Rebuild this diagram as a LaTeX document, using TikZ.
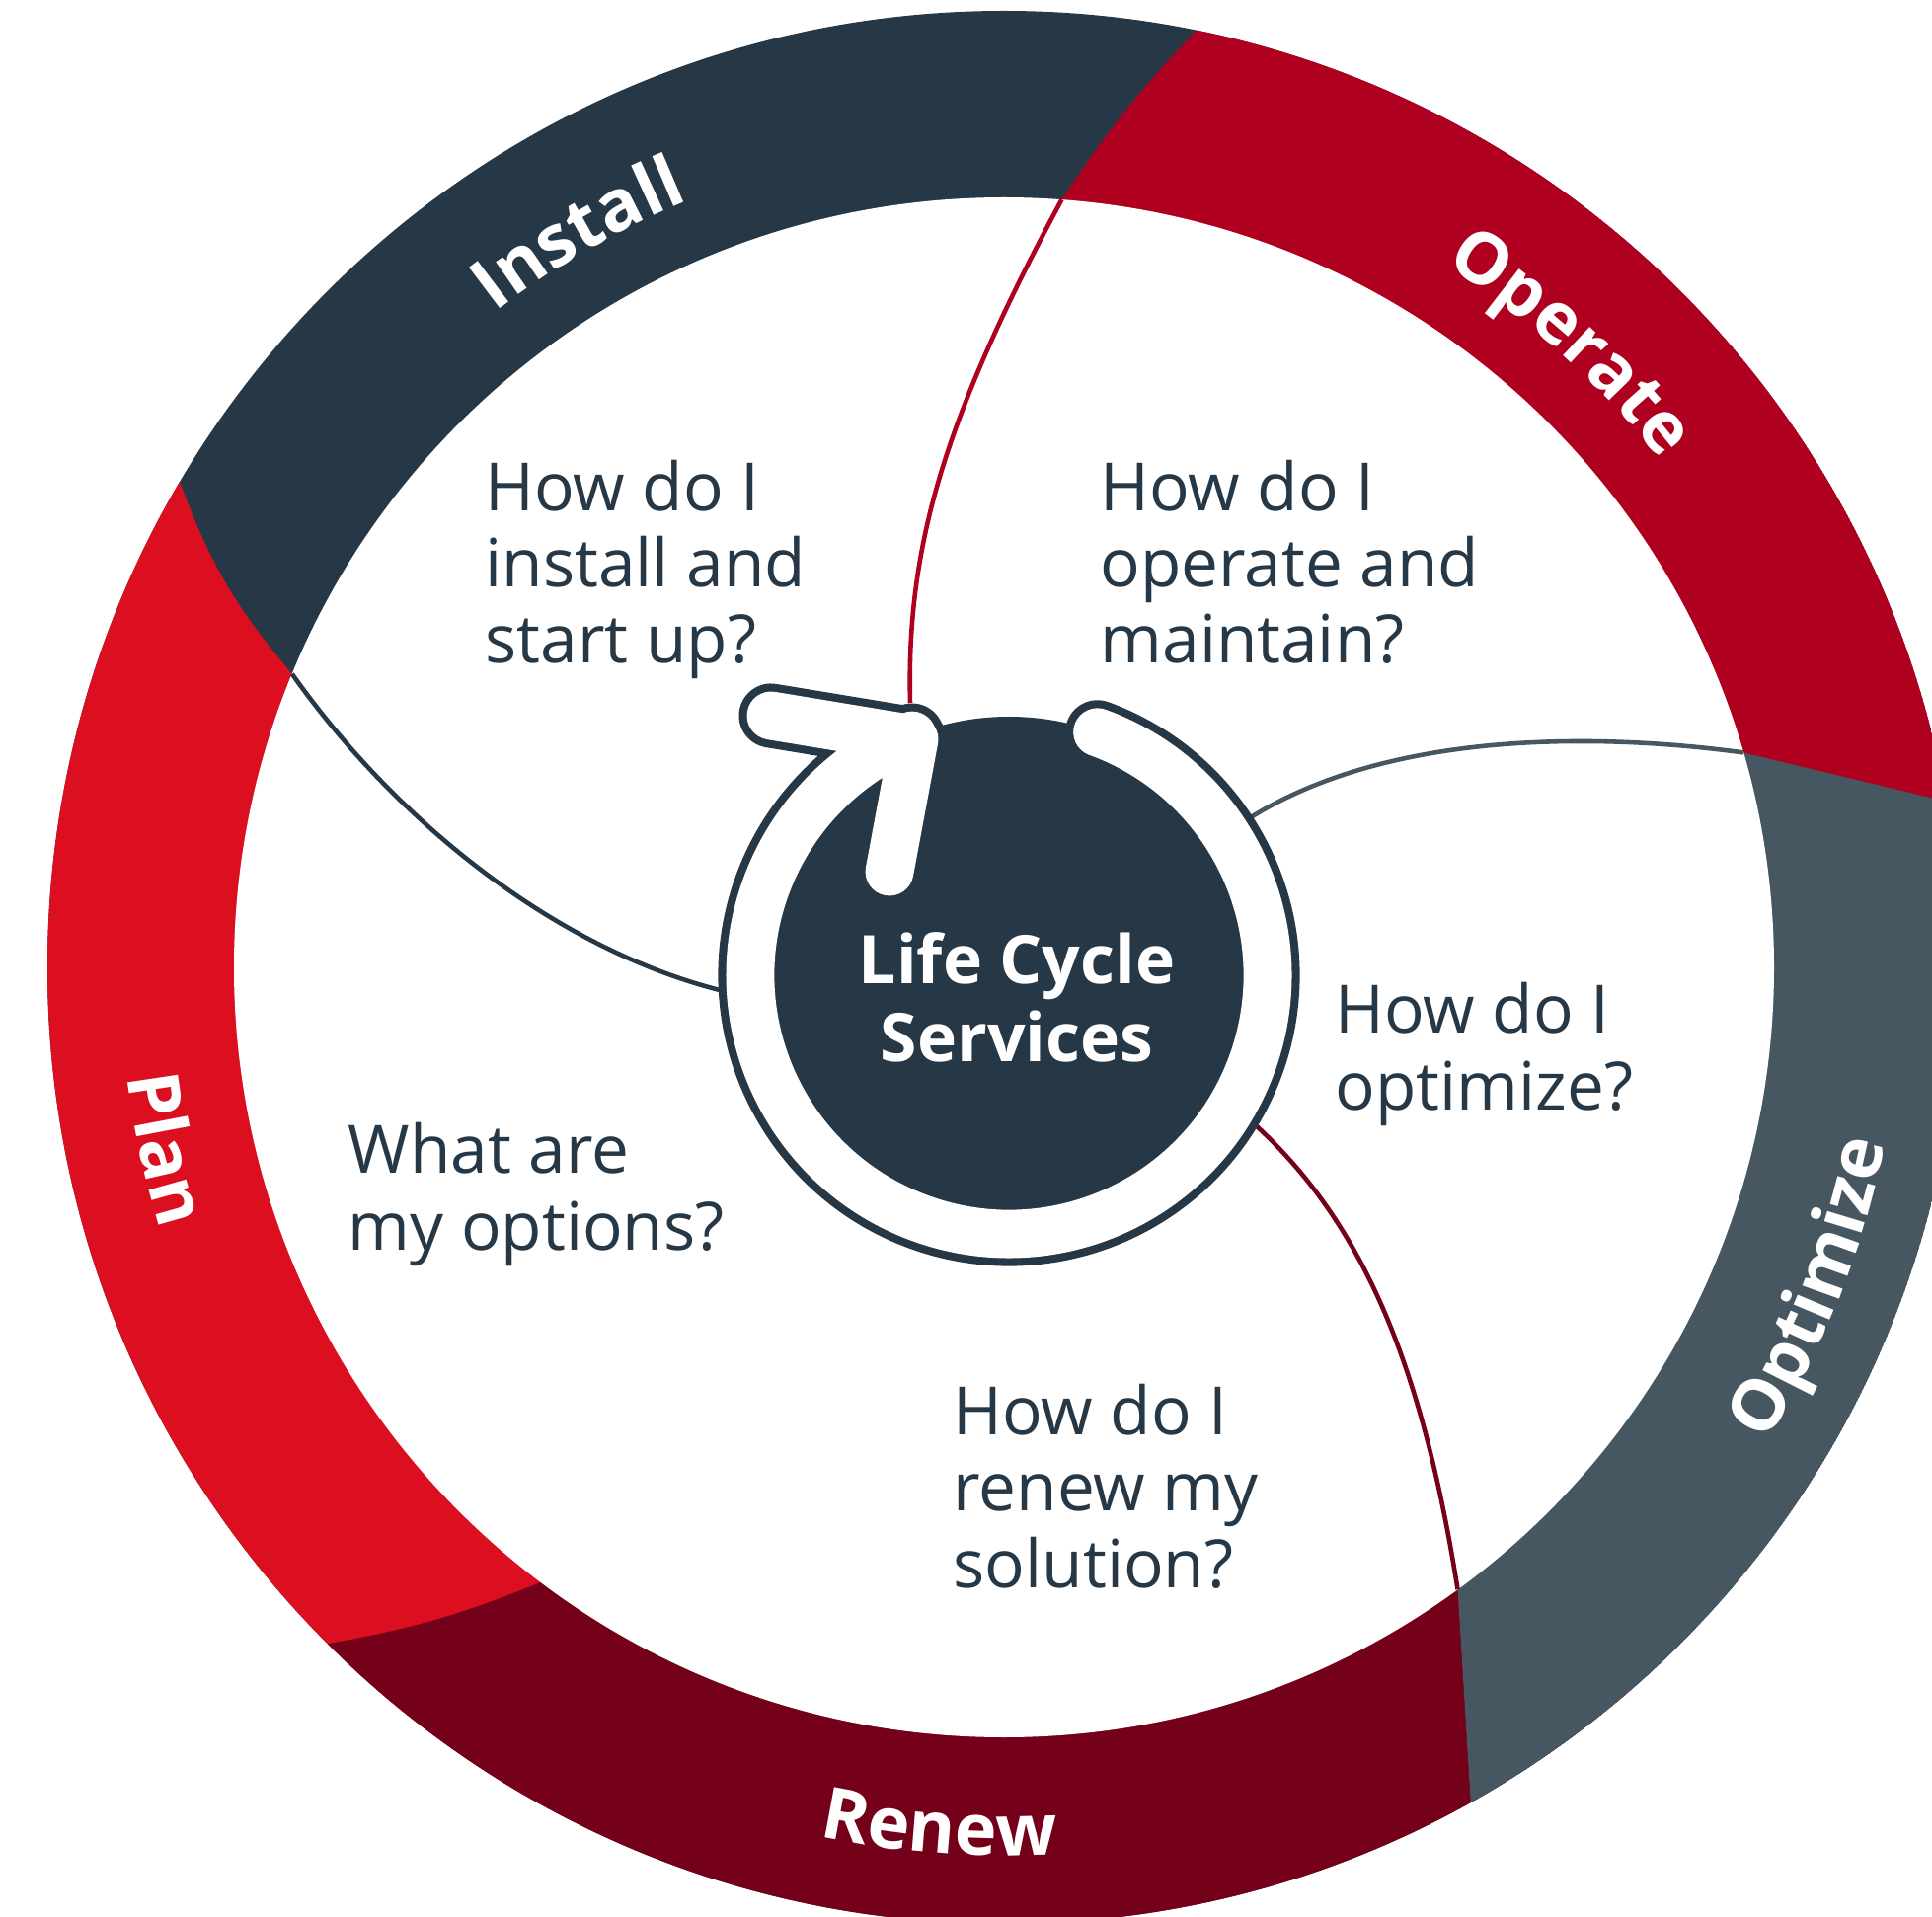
\documentclass[tikz,border=0pt]{standalone}
\usepackage{fontspec}
\setmainfont{Open Sans}
\usepackage{tikz}
\usetikzlibrary{decorations.text}

\definecolor{lcinstall}{HTML}{263746}
\definecolor{lcoperate}{HTML}{AF0020}
\definecolor{lcoptimize}{HTML}{465761}
\definecolor{lcrenew}{HTML}{74001A}
\definecolor{lcplan}{HTML}{DC0F20}

\begin{document}
\begin{tikzpicture}[x=0.01cm, y=0.01cm,
  question/.style={anchor=base west, align=left, inner sep=0pt, text=lcinstall,
    font=\fontsize{19.2}{21.9}\selectfont},
  ringlabel/.style={decorate, decoration={text along path, text align=center,
    text color=white, text={|\fontsize{20.6}{22}\selectfont\bfseries|#1}}},
  boundary/.style={line width=1.3pt},
  band/.style={lcinstall, line width=2.3pt, double=white, double distance=13.9pt,
    line cap=round, line join=round}]

  \useasboundingbox (0,0) rectangle (1957,1941);
  \clip (0,0) rectangle (1957,1941);

  \coordinate (c) at (1017,961);
  \coordinate (b1o) at ([shift={(c)}]78.4:969);
  \coordinate (b1i) at ([shift={(c)}]85.7:780);
  \coordinate (b2o) at ([shift={(c)}]10:969);
  \coordinate (b2i) at ([shift={(c)}]16.2:780);
  \coordinate (b3o) at ([shift={(c)}]-60.8:969);
  \coordinate (b3i) at ([shift={(c)}]-53.9:780);
  \coordinate (b4o) at ([shift={(c)}]-135:969);
  \coordinate (b4i) at ([shift={(c)}]-127:780);
  \coordinate (b5o) at ([shift={(c)}]149.5:969);
  \coordinate (b5i) at ([shift={(c)}]157.6:780);

  \begin{scope}
    \clip (c) circle[radius=969];
    \fill[lcinstall] (c) circle[radius=969];
    \fill[lcplan] (c) -- (b5i) to[bend left=10] (b5o) -- ([shift={(c)}]149.5:1400)
      -- ([shift={(c)}]195:1400) -- ([shift={(c)}]240:1400) -- cycle;
    \fill[lcrenew] (c) -- (b4i) to[bend left=6] (b4o) -- ([shift={(c)}]225:1400)
      -- ([shift={(c)}]270:1400) -- ([shift={(c)}]315:1400) -- cycle;
    \fill[lcoptimize] (c) -- (b3i) -- (b3o) -- ([shift={(c)}]299.2:1400)
      -- ([shift={(c)}]340:1400) -- ([shift={(c)}]385:1400) -- cycle;
    \fill[lcoperate] (c) -- (b2i) -- (b2o) -- ([shift={(c)}]10:1400)
      -- ([shift={(c)}]45:1400) -- ([shift={(c)}]78.4:1400) -- (b1o)
      to[bend right=5] (b1i) -- cycle;
  \end{scope}
  \fill[white] (c) circle[radius=780];

  \coordinate (cs) at (1022,953);
  \coordinate (t1) at (922,1229);
  \coordinate (t2) at (1267,1113);
  \coordinate (t3) at (1273,800);
  \coordinate (t5) at (729,938);
  \draw[boundary, lcoperate] (b1i) .. controls (955,1515) and (918,1385) .. (t1);
  \draw[boundary, lcoptimize] (b2i) .. controls (1600,1201) and (1400,1196) .. (t2);
  \draw[boundary, lcrenew] (b3i) .. controls (1440,561) and (1380,701) .. (t3);
  \draw[boundary, lcinstall] (b5i) .. controls (400,1111) and (560,981) .. (t5);

  \coordinate (a1) at (781,1216);
  \coordinate (a2) at (926,1192);
  \coordinate (a3) at (901,1058);
  \fill[lcinstall] (cs) circle[radius=262];
  \draw[band] ([shift={(cs)}]70:262) arc[start angle=70, end angle=-248, radius=262]
    (a1) -- (a2) -- (a3);
  \node[align=center, inner sep=0pt, anchor=base, text=white,
    font=\fontsize{19.3}{22.2}\selectfont\bfseries] (title) at (1030,866) {Life Cycle\\Services};

  \node[question] (qinstall) at (491,1269) {How do I\\install and\\start up?};
  \node[question] (qoperate) at (1114,1269) {How do I\\operate and\\maintain?};
  \node[question] (qoptimize) at (1352,817) {How do I\\optimize?};
  \node[question] (qplan) at (352,675) {What are\\my options?};
  \node[question] (qrenew) at (965,333) {How do I\\renew my\\solution?};

  \path[ringlabel=Install] ([shift={(c)}]140.1:840) arc[start angle=140.1, end angle=100.1, radius=840];
  \path[ringlabel=Operate] ([shift={(c)}]67.8:840) arc[start angle=67.8, end angle=27.8, radius=840];
  \path[ringlabel=Optimize] ([shift={(c)}]-41.6:910) arc[start angle=-41.6, end angle=-1.6, radius=910];
  \path[ringlabel=Renew] ([shift={(c)}]-114.3:900) arc[start angle=-114.3, end angle=-74.3, radius=900];
  \path[ringlabel=Plan] ([shift={(c)}]172.2:895) arc[start angle=172.2, end angle=212.2, radius=895];
\end{tikzpicture}
\end{document}
